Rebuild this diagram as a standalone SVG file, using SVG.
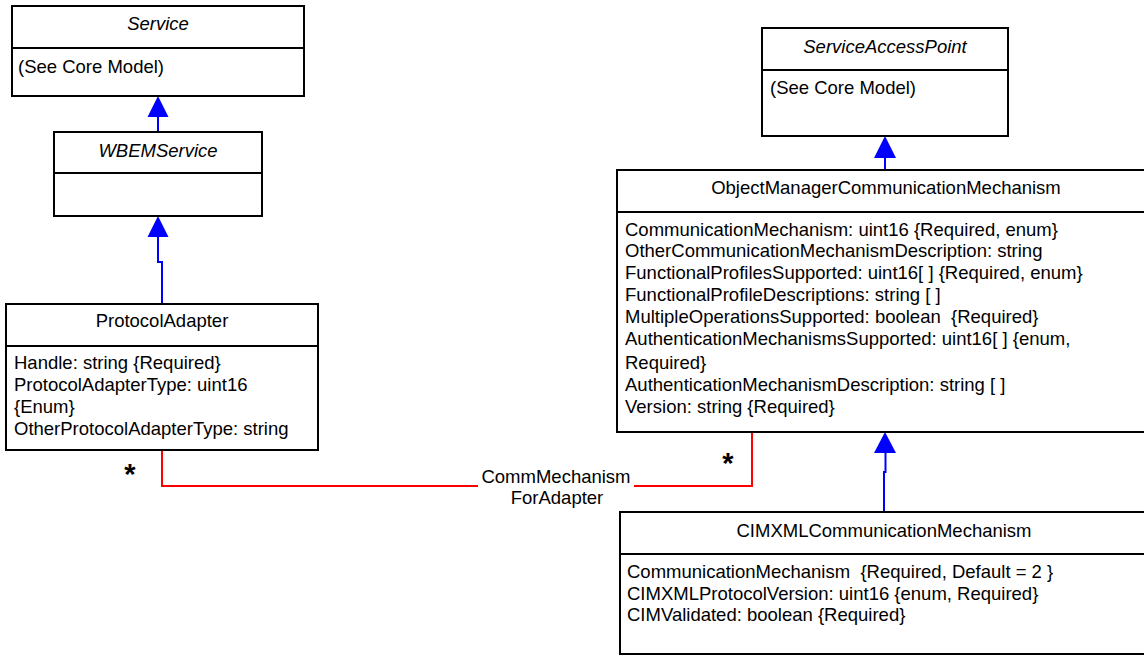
<svg xmlns="http://www.w3.org/2000/svg" width="1144" height="656" viewBox="0 0 1144 656">
<style>
.box{fill:#fff;stroke:#000;stroke-width:2}
.div{stroke:#000;stroke-width:2}
text{font-family:"Liberation Sans",Arial,sans-serif;font-size:18.5px;fill:#000;white-space:pre}
.t{text-anchor:middle}
.i{font-style:italic}
.gen{fill:none;stroke:#0000ff;stroke-width:2}
.head{fill:#0000ff;stroke:none}
.assoc{fill:none;stroke:#ff0000;stroke-width:2}
.star{font-size:29px;font-weight:bold}
</style>
<rect width="1144" height="656" fill="#fff"/>
<g id="connectors">
<path class="gen" d="M158 117V132"/>
<polygon class="head" points="158,96 147.5,117 168.5,117"/>
<path class="gen" d="M162 304V262H158V237"/>
<polygon class="head" points="158,216 147.5,237 168.5,237"/>
<path class="gen" d="M885 158V170"/>
<polygon class="head" points="885,136 874,158 896,158"/>
<path class="gen" d="M884 512V472H885.5V453"/>
<polygon class="head" points="885,432 874,453 896,453"/>
<path class="assoc" d="M162 450V486H478"/>
<path class="assoc" d="M634 486H752V432"/>
<text class="t" x="556" y="483">CommMechanism</text>
<text class="t" x="557" y="504">ForAdapter</text>
<text class="star" x="130" y="484" text-anchor="middle">*</text>
<text class="star" x="728" y="473" text-anchor="middle">*</text>
</g>
<g id="Service">
<rect class="box" x="12" y="6" width="292" height="90"/>
<line class="div" x1="12" y1="48" x2="304" y2="48"/>
<text class="t i" x="158" y="30">Service</text>
<text x="18" y="73">(See Core Model)</text>
</g>
<g id="WBEMService">
<rect class="box" x="54" y="132" width="208" height="84"/>
<line class="div" x1="54" y1="173" x2="262" y2="173"/>
<text class="t i" x="158" y="157">WBEMService</text>
</g>
<g id="ProtocolAdapter">
<rect class="box" x="6" y="304" width="312" height="146"/>
<line class="div" x1="6" y1="346" x2="318" y2="346"/>
<text class="t" x="162" y="327">ProtocolAdapter</text>
<text x="14" y="369">Handle: string {Required}</text>
<text x="14" y="391">ProtocolAdapterType: uint16</text>
<text x="14" y="413">{Enum}</text>
<text x="14" y="435">OtherProtocolAdapterType: string</text>
</g>
<g id="ServiceAccessPoint">
<rect class="box" x="762" y="28" width="246" height="108"/>
<line class="div" x1="762" y1="70" x2="1008" y2="70"/>
<text class="t i" x="885" y="53">ServiceAccessPoint</text>
<text x="770" y="94">(See Core Model)</text>
</g>
<g id="ObjectManagerCommunicationMechanism">
<rect class="box" x="617" y="170" width="540" height="262"/>
<line class="div" x1="617" y1="212" x2="1157" y2="212"/>
<text class="t" x="886" y="194">ObjectManagerCommunicationMechanism</text>
<text x="625" y="236">CommunicationMechanism: uint16 {Required, enum}</text>
<text x="625" y="257">OtherCommunicationMechanismDescription: string</text>
<text x="625" y="279">FunctionalProfilesSupported: uint16[ ] {Required, enum}</text>
<text x="625" y="301">FunctionalProfileDescriptions: string [ ]</text>
<text x="625" y="323" xml:space="preserve">MultipleOperationsSupported: boolean  {Required}</text>
<text x="625" y="345">AuthenticationMechanismsSupported: uint16[ ] {enum,</text>
<text x="625" y="369">Required}</text>
<text x="625" y="391">AuthenticationMechanismDescription: string [ ]</text>
<text x="625" y="413">Version: string {Required}</text>
</g>
<g id="CIMXMLCommunicationMechanism">
<rect class="box" x="620" y="512" width="540" height="142"/>
<line class="div" x1="620" y1="554" x2="1160" y2="554"/>
<text class="t" x="884" y="537">CIMXMLCommunicationMechanism</text>
<text x="627" y="578" xml:space="preserve">CommunicationMechanism  {Required, Default = 2 }</text>
<text x="627" y="600">CIMXMLProtocolVersion: uint16 {enum, Required}</text>
<text x="627" y="621">CIMValidated: boolean {Required}</text>
</g>
</svg>
